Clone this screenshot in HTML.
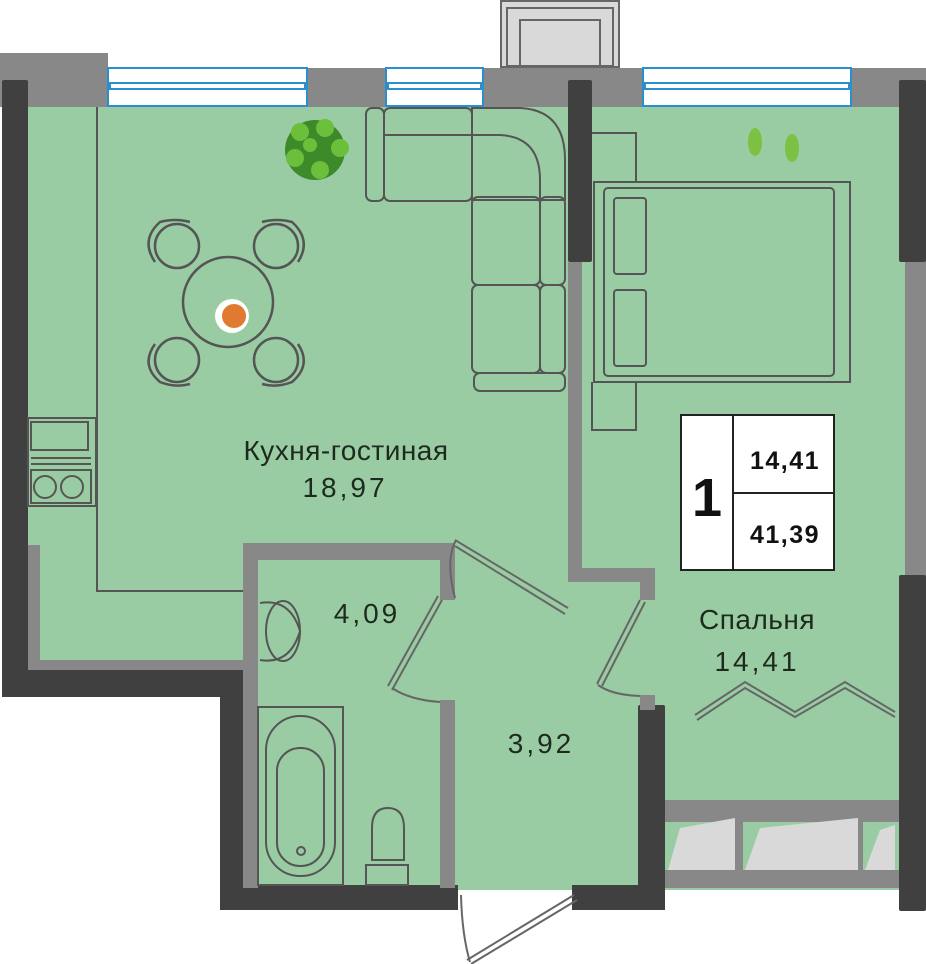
<!DOCTYPE html>
<html><head><meta charset="utf-8"><style>
html,body{margin:0;padding:0;background:#fff}
svg{display:block}
text{font-family:"Liberation Sans","DejaVu Sans",sans-serif}
</style></head><body>
<svg width="926" height="964" viewBox="0 0 926 964" xmlns="http://www.w3.org/2000/svg">
<!-- floor -->
<rect x="28" y="105" width="877" height="560" fill="#99cca3"/>
<rect x="243" y="600" width="662" height="290" fill="#99cca3"/>
<!-- closet -->
<rect x="665" y="800" width="240" height="88" fill="#888"/>
<rect x="665" y="822" width="240" height="48" fill="#99cca3"/>
<polygon points="680,828 735,818 735,870 668,870" fill="#d9d9d9"/>
<polygon points="760,828 858,818 858,870 745,870" fill="#d9d9d9"/>
<polygon points="880,830 895,825 895,870 865,870" fill="#d9d9d9"/>
<rect x="735" y="822" width="8" height="48" fill="#888"/>
<rect x="858" y="822" width="5" height="48" fill="#888"/>
<!-- top wall -->
<rect x="0" y="53" width="108" height="54" fill="#888"/>
<rect x="28" y="68" width="877" height="39" fill="#888"/>
<rect x="905" y="68" width="21" height="840" fill="#888"/>
<!-- windows -->
<g fill="#fff" stroke="#2a8fcf" stroke-width="2">
<rect x="108" y="68" width="199" height="38"/>
<rect x="386" y="68" width="97" height="38"/>
<rect x="643" y="68" width="208" height="38"/>
</g>
<g fill="none" stroke="#2a8fcf" stroke-width="2">
<rect x="110" y="83" width="195" height="6"/>
<rect x="388" y="83" width="93" height="6"/>
<rect x="645" y="83" width="204" height="6"/>
</g>
<!-- balcony -->
<rect x="501" y="1" width="118" height="66" fill="#d9d9d9" stroke="#666" stroke-width="2"/>
<rect x="507" y="8" width="106" height="58" fill="none" stroke="#666" stroke-width="2"/>
<rect x="520" y="20" width="80" height="46" fill="none" stroke="#666" stroke-width="2"/>
<!-- dark walls -->
<g fill="#404040">
<rect x="2" y="80" width="26" height="617" rx="2"/>
<rect x="2" y="670" width="245" height="27"/>
<rect x="220" y="670" width="27" height="240" rx="2"/>
<rect x="220" y="885" width="238" height="25"/>
<rect x="572" y="885" width="93" height="25"/>
<rect x="638" y="705" width="27" height="205" rx="2"/>
<rect x="899" y="80" width="27" height="182" rx="2"/>
<rect x="899" y="575" width="27" height="336" rx="2"/>
<rect x="568" y="80" width="24" height="182" rx="2"/>
</g>
<!-- gray inner walls -->
<g fill="#888">
<rect x="28" y="545" width="12" height="125"/>
<rect x="28" y="660" width="215" height="10"/>
<rect x="568" y="262" width="14" height="318"/>
<rect x="568" y="568" width="87" height="14"/>
<rect x="640" y="578" width="15" height="22"/>
<rect x="640" y="695" width="15" height="15"/>
<rect x="243" y="543" width="212" height="17"/>
<rect x="243" y="543" width="15" height="345"/>
<rect x="440" y="543" width="15" height="57"/>
<rect x="440" y="700" width="15" height="188"/>
</g>
<!-- doors -->
<g fill="none" stroke="#666" stroke-width="2">
<path d="M455,540 L568,608 M455,546 L565,614"/>
<path d="M455,598 Q445,560 456,540"/>
<path d="M438,596 L388,686 M442,600 L392,690"/>
<path d="M392,688 Q410,700 440,702"/>
<path d="M640,600 L597,684 M645,602 L602,686"/>
<path d="M598,685 Q612,695 640,696"/>
<path d="M574,895 L467,960 M577,900 L471,964"/>
<path d="M461,895 Q462,935 470,962"/>
<path d="M695,715 L745,682 L795,712 L845,682 L895,712 M697,720 L745,688 L795,717 L845,688 L895,717"/>
</g>
<!-- kitchen -->
<g fill="none" stroke="#555" stroke-width="2">
<path d="M97,107 L97,591 L243,591"/>
<rect x="28" y="418" width="68" height="88"/>
<rect x="31" y="422" width="57" height="28"/>
<rect x="31" y="470" width="60" height="33"/>
<circle cx="45" cy="487" r="11"/><circle cx="72" cy="487" r="11"/>
<path d="M31,458 H91 M31,464 H91"/>
</g>
<!-- dining -->
<g fill="none" stroke="#555" stroke-width="2.5">
<circle cx="228" cy="302" r="45"/>
<circle cx="177" cy="246" r="22"/><circle cx="276" cy="246" r="22"/>
<circle cx="177" cy="360" r="22"/><circle cx="276" cy="360" r="22"/>
<path d="M155,262 Q140,240 160,222 Q175,218 190,222"/>
<path d="M298,262 Q312,240 292,222 Q277,218 262,222"/>
<path d="M155,344 Q140,365 160,382 Q175,388 190,384"/>
<path d="M298,344 Q312,365 292,382 Q277,388 262,384"/>
</g>
<circle cx="232" cy="316" r="17" fill="#fff"/>
<circle cx="234" cy="316" r="12" fill="#e07a30"/>
<!-- plant -->
<circle cx="315" cy="150" r="30" fill="#3d8a2a"/>
<g fill="#6bbf3a"><circle cx="300" cy="132" r="9"/><circle cx="325" cy="128" r="9"/><circle cx="340" cy="148" r="9"/><circle cx="295" cy="158" r="9"/><circle cx="320" cy="170" r="9"/><circle cx="310" cy="145" r="7"/></g>
<!-- sofa -->
<g fill="none" stroke="#555" stroke-width="2">
<rect x="366" y="108" width="18" height="93" rx="6"/>
<rect x="384" y="108" width="88" height="93" rx="6"/>
<path d="M384,135 H472"/>
<path d="M472,108 H520 Q565,110 565,160 V200 H472 Z"/>
<path d="M472,135 H500 Q540,137 540,180 V200"/>
<rect x="472" y="197" width="68" height="88" rx="6"/><rect x="540" y="197" width="25" height="88" rx="6"/>
<rect x="472" y="285" width="68" height="88" rx="6"/><rect x="540" y="285" width="25" height="88" rx="6"/>
<rect x="474" y="373" width="91" height="18" rx="6"/>
</g>
<!-- bed -->
<g fill="none" stroke="#555" stroke-width="2">
<path d="M592,133 H636 V182 M592,382 V430 H636 V382"/>
<rect x="594" y="182" width="256" height="200"/>
<rect x="604" y="188" width="230" height="188" rx="4"/>
<rect x="614" y="198" width="32" height="76" rx="3"/>
<rect x="614" y="290" width="32" height="76" rx="3"/>
</g>
<ellipse cx="755" cy="142" rx="7" ry="14" fill="#7cc142"/>
<ellipse cx="792" cy="148" rx="7" ry="14" fill="#7cc142"/>
<!-- bathroom -->
<g fill="none" stroke="#555" stroke-width="2">
<ellipse cx="283" cy="631" rx="17" ry="30"/>
<path d="M260,603 Q290,598 300,631 Q290,665 260,660"/>
<rect x="258" y="707" width="85" height="178"/>
<rect x="266" y="716" width="69" height="160" rx="34"/>
<rect x="277" y="748" width="47" height="118" rx="23"/>
<circle cx="301" cy="851" r="4"/>
<path d="M372,860 V828 Q372,808 388,808 Q404,808 404,828 V860 Z"/>
<rect x="366" y="865" width="42" height="20"/>
</g>
<!-- legend -->
<rect x="681" y="415" width="153" height="155" fill="#fff" stroke="#222" stroke-width="2"/>
<path d="M733,415 V570 M733,493 H834" stroke="#222" stroke-width="2"/>
<text x="707" y="516" font-size="54" font-weight="bold" text-anchor="middle" fill="#111">1</text>
<text x="785" y="469" font-size="25" font-weight="bold" text-anchor="middle" letter-spacing="1.5" fill="#111">14,41</text>
<text x="785" y="543" font-size="25" font-weight="bold" text-anchor="middle" letter-spacing="1.5" fill="#111">41,39</text>
<!-- labels -->
<g fill="#1f2a1f" font-size="28" text-anchor="middle">
<text x="346" y="460" letter-spacing="0.5">Кухня-гостиная</text>
<text x="345" y="497" letter-spacing="3">18,97</text>
<text x="367" y="623" letter-spacing="3">4,09</text>
<text x="541" y="753" letter-spacing="3">3,92</text>
<text x="757" y="629" letter-spacing="0.5">Спальня</text>
<text x="757" y="671" letter-spacing="3">14,41</text>
</g>
</svg>
</body></html>
